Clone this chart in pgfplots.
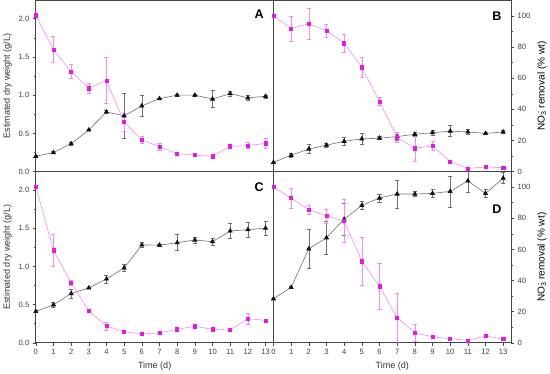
\documentclass[border=0pt]{standalone}
\usepackage{pgfplots}
\pgfplotsset{compat=1.18}
\usepackage{pgfplotstable}
\usepgfplotslibrary{groupplots}
\usepackage{fontspec}
\setmainfont{Liberation Sans}
\setsansfont{Liberation Sans}
\definecolor{mag}{HTML}{E21BE2}
\definecolor{magl}{HTML}{F08CF0}
\definecolor{blk}{HTML}{111111}
\definecolor{gry}{HTML}{707070}
\definecolor{axc}{HTML}{454545}

\pgfplotstableread{
x y e
0 0.20 0.01
1 0.25 0.01
2 0.365 0.015
3 0.545 0.01
4 0.78 0.02
5 0.73 0.29
6 0.86 0.135
7 0.955 0.01
8 1.0 0.01
9 1.0 0.01
10 0.95 0.11
11 1.02 0.03
12 0.965 0.03
13 0.985 0.02
}\Ab
\pgfplotstableread{
x y e
0 2.045 0
1 1.595 0.17
2 1.31 0.095
3 1.09 0.07
4 1.19 0.30
5 0.65 0.12
6 0.415 0.05
7 0.325 0.04
8 0.235 0.01
9 0.215 0.01
10 0.20 0.01
11 0.33 0.02
12 0.34 0.04
13 0.37 0.07
}\Am
\pgfplotstableread{
x y e
0 6 0.5
1 10.5 1
2 14.5 3
3 17 1.2
4 19.5 2.5
5 21 3.5
6 21.5 1
7 22.5 2.5
8 24 1
9 25 1.5
10 26 3.5
11 25.5 1.5
12 24.5 0.5
13 25.5 1
}\Bb
\pgfplotstableread{
x y e
0 100 0
1 92 8
2 95 10
3 90.5 4
4 82.5 6
5 67 6.5
6 45 2.5
7 22 3
8 15 8.5
9 16.5 3
10 6.5 1
11 2 1
12 3 0.5
13 2.5 0.5
}\Bm
\pgfplotstableread{
x y e
0 0.41 0.01
1 0.497 0.03
2 0.645 0.06
3 0.718 0.01
4 0.835 0.05
5 0.98 0.05
6 1.28 0.03
7 1.278 0.01
8 1.31 0.105
9 1.345 0.04
10 1.323 0.05
11 1.463 0.095
12 1.48 0.10
13 1.50 0.09
}\Cb
\pgfplotstableread{
x y e
0 2.045 0
1 1.21 0.21
2 0.785 0.03
3 0.415 0.01
4 0.22 0.05
5 0.145 0.01
6 0.117 0.01
7 0.13 0.01
8 0.176 0.01
9 0.217 0.01
10 0.176 0.01
11 0.167 0.01
12 0.316 0.07
13 0.293 0.02
}\Cm
\pgfplotstableread{
x y e
0 28.3 0.5
1 35.6 0.5
2 60.4 12.7
3 67.5 10.4
4 79.4 10
5 88.3 2.5
6 93 2.5
7 95.6 9
8 95.6 1.5
9 96 2.5
10 97.3 10
11 104 7
12 96 2.5
13 105.8 3.5
}\Db
\pgfplotstableread{
x y e
0 100 0
1 93 6.6
2 85.6 3
3 81.4 4.5
4 78.3 14
5 52.4 15.7
6 36.3 15
7 16 16
8 6.6 5.5
9 3.8 1
10 2.7 0.5
11 1.5 0.5
12 4.4 0.5
13 2.4 0.5
}\Dm

\pgfplotsset{
  mstyle/.style={color=magl, line width=0.6pt, mark=square*, mark size=1.6pt,
    mark options={fill=mag, draw=mag},
    error bars/.cd, y dir=both, y explicit,
    error bar style={magl, line width=0.5pt},
    error mark options={rotate=90, magl, mark size=2pt, line width=0.5pt}},
  bstyle/.style={color=gry, line width=0.6pt, mark=triangle*, mark size=2.4pt,
    mark options={fill=blk, draw=blk},
    error bars/.cd, y dir=both, y explicit,
    error bar style={gry, line width=0.5pt},
    error mark options={rotate=90, gry, mark size=2pt, line width=0.5pt}},
}
\tikzset{plabel/.style={font=\bfseries\fontsize{12.5}{12.5}\selectfont}}
\newcommand{\nolab}{NO\textsubscript{3}\llap{\textsuperscript{-}} removal (\% wt)}

\begin{document}
\begin{tikzpicture}
\begin{groupplot}[
  group style={group size=2 by 2, horizontal sep=0pt, vertical sep=0pt},
  scale only axis, width=236bp, height=170bp,
  xmin=0, xmax=13.45, ymin=0,
  xtick={0,...,13},
  tick align=outside,
  major tick length=3pt, minor tick length=1.6pt,
  every tick/.style={axc, line width=0.5pt},
  axis line style={axc, line width=0.8pt},
  tick label style={font=\fontsize{7.6}{8}\selectfont, text=black!75},
  label style={font=\fontsize{9}{10}\selectfont, text=black!80},
  /pgf/number format/assume math mode=true,
  clip=true,
]
% A
\nextgroupplot[ymax=2.24, ytick={0,0.5,...,2.0}, minor y tick num=1,
  yticklabel style={/pgf/number format/.cd, fixed, fixed zerofill, precision=1},
  ytick pos=left, xmajorticks=false, xticklabels={},
  ylabel={Estimated dry weight (g/L)}]
\addplot[bstyle] table[x=x, y=y, y error=e]{\Ab};
\addplot[mstyle] table[x=x, y=y, y error=e]{\Am};
\node[plabel] at (rel axis cs:0.94,0.92) {A};
% B
\nextgroupplot[ymax=110, ytick={0,20,...,100}, minor y tick num=1,
  ytick pos=right, yticklabel pos=right, xmajorticks=false, xticklabels={},
  ylabel={\nolab}, ylabel near ticks]
\addplot[bstyle] table[x=x, y=y, y error=e]{\Bb};
\addplot[mstyle] table[x=x, y=y, y error=e]{\Bm};
\node[plabel] at (rel axis cs:0.94,0.91) {B};
% C
\nextgroupplot[ymax=2.24, ytick={0,0.5,...,2.0}, minor y tick num=1,
  yticklabel style={/pgf/number format/.cd, fixed, fixed zerofill, precision=1},
  ytick pos=left, xtick pos=bottom,
  ylabel={Estimated dry weight (g/L)}, xlabel={Time (d)}]
\addplot[bstyle] table[x=x, y=y, y error=e]{\Cb};
\addplot[mstyle] table[x=x, y=y, y error=e]{\Cm};
\node[plabel] at (rel axis cs:0.94,0.91) {C};
% D
\nextgroupplot[ymax=110, ytick={0,20,...,100}, minor y tick num=1,
  ytick pos=right, yticklabel pos=right, xtick pos=bottom,
  ylabel={\nolab}, ylabel near ticks,
  xlabel={Time (d)}]
\addplot[bstyle] table[x=x, y=y, y error=e]{\Db};
\addplot[mstyle] table[x=x, y=y, y error=e]{\Dm};
\node[plabel] at (rel axis cs:0.94,0.78) {D};
\end{groupplot}
\end{tikzpicture}
\end{document}
